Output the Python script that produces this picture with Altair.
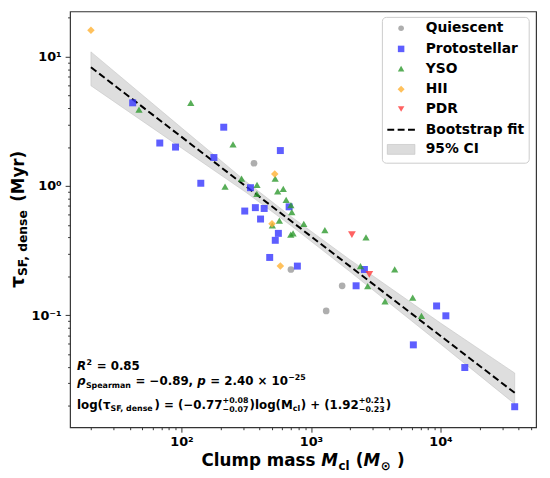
import altair as alt
import pandas as pd

# ---------------- data ----------------
cats = ["Quiescent", "Protostellar", "YSO", "HII", "PDR"]
q_mass = [363, 700, 1740, 1310]
q_tau = [1.5, 0.226, 0.169, 0.108]
p_mass = [42, 68, 90, 212, 178, 580, 141, 341, 678, 308, 372, 435, 408, 560,
          530, 480, 785, 2585, 2230, 9330, 11000, 6170, 15400, 37400]
p_tau = [4.4, 2.15, 2.0, 2.85, 1.66, 1.88, 1.05, 0.97, 0.69, 0.64, 0.68, 0.67,
         0.555, 0.43, 0.38, 0.28, 0.24, 0.226, 0.169, 0.118, 0.099, 0.059,
         0.0394, 0.0196]
y_mass = [47, 118, 250, 529, 217, 291, 383, 382, 553, 611, 643, 700, 711, 503,
          570, 698, 727, 880, 1280, 2660, 2410, 2740, 3730, 4430, 6100, 7130]
y_tau = [3.9, 4.4, 2.1, 1.14, 0.99, 1.14, 1.02, 0.87, 0.91, 0.95, 0.78, 0.71,
         0.627, 0.496, 0.54, 0.42, 0.43, 0.51, 0.455, 0.40, 0.24, 0.168, 0.128,
         0.226, 0.137, 0.099]
h_mass = [20, 525, 500, 580]
h_tau = [16, 1.24, 0.51, 0.24]
d_mass = [2070, 2820]
d_tau = [0.42, 0.207]

fit_mass = [20, 37400]
fit_tau = [8.28, 0.0251]

ci_mass = [20, 100, 316, 708, 1995, 10000, 37400]
ci_lo = [5.97, 1.97, 0.891, 0.49, 0.218, 0.060, 0.0206]
ci_hi = [10.9, 2.82, 1.08, 0.576, 0.269, 0.087, 0.0357]

x_labels = {100: "10²", 1000: "10³", 10000: "10⁴"}
y_labels = {0.1: "10⁻¹", 1: "10⁰", 10: "10¹"}

# ---------------- styling ----------------
colors = ["#9a9a9a", "#3636ff", "#2e9a2e", "#ffb233", "#ff3b3b"]
shapes = ["circle", "square", "triangle-up", "diamond", "triangle-down"]
sizes = [46, 62, 62, 72, 62]
FONT = "DejaVu Sans"

masses = [q_mass, p_mass, y_mass, h_mass, d_mass]
taus = [q_tau, p_tau, y_tau, h_tau, d_tau]
rows = []
for c, ms, ts in zip(cats, masses, taus):
    for m, t in zip(ms, ts):
        rows.append({"mass": m, "tau": t, "cls": c})
pts = pd.DataFrame(rows)
fit = pd.DataFrame({"mass": fit_mass, "tau": fit_tau})
band = pd.DataFrame({"mass": ci_mass, "lo": ci_lo, "hi": ci_hi})

xdom = [13.8, 54700]
ydom = [0.0136, 22.4]
xticks = [float(f"{m}e{k}") for k in range(1, 5) for m in range(1, 10)]
xticks = [v for v in xticks if xdom[0] <= v <= xdom[1]]
yticks = [float(f"{m}e{k}") for k in range(-2, 2) for m in range(1, 10)]
yticks = [v for v in yticks if ydom[0] <= v <= ydom[1]]


def label_expr(d):
    parts = [f"datum.value == {k} ? '{v}'" for k, v in d.items()]
    return " : ".join(parts) + " : ''"


def major_test(d):
    return " || ".join(f"datum.value == {k}" for k in d)


xaxis = alt.Axis(values=xticks, labelExpr=label_expr(x_labels), title=None,
                 grid=False, domain=False, labelOverlap=False, labelFlush=False,
                 tickSize={"condition": {"test": major_test(x_labels), "value": 5}, "value": 2.5},
                 labelPadding=4)
yaxis = alt.Axis(values=yticks, labelExpr=label_expr(y_labels), title=None,
                 grid=False, domain=False, labelOverlap=False, labelFlush=False,
                 tickSize={"condition": {"test": major_test(y_labels), "value": 5}, "value": 2.5},
                 labelPadding=4)
xscale = alt.Scale(type="log", domain=xdom, nice=False)
yscale = alt.Scale(type="log", domain=ydom, nice=False)

band_layer = alt.Chart(band).mark_area(
    color="#d4d4d4", opacity=0.75, stroke="#b0b0b0", strokeWidth=0.6
).encode(
    x=alt.X("mass:Q", scale=xscale, axis=xaxis),
    y=alt.Y("lo:Q", scale=yscale, axis=yaxis),
    y2="hi:Q",
)
fit_layer = alt.Chart(fit).mark_line(
    color="black", strokeWidth=2, strokeDash=[7, 3.5]
).encode(
    x=alt.X("mass:Q", scale=xscale, axis=xaxis),
    y=alt.Y("tau:Q", scale=yscale, axis=yaxis),
)
pt_layer = alt.Chart(pts).mark_point(
    filled=True, opacity=0.8, strokeWidth=1
).encode(
    x=alt.X("mass:Q", scale=xscale, axis=xaxis),
    y=alt.Y("tau:Q", scale=yscale, axis=yaxis),
    color=alt.Color("cls:N", scale=alt.Scale(domain=cats, range=colors), legend=None),
    shape=alt.Shape("cls:N", scale=alt.Scale(domain=cats, range=shapes), legend=None),
    size=alt.Size("cls:N", scale=alt.Scale(domain=cats, range=sizes), legend=None),
)

one = pd.DataFrame({"k": [0]})

# ---------------- text helpers ----------------
W = {' ': 0.348, '(': 0.457, ')': 0.457, '+': 0.838, '−': 0.838, '=': 0.838,
     ',': 0.38, '.': 0.38, '×': 0.838, 'a': 0.675, 'c': 0.593, 'd': 0.716,
     'e': 0.678, 'g': 0.716, 'l': 0.343, 'm': 1.042, 'n': 0.712, 'o': 0.687,
     'p': 0.716, 'r': 0.493, 's': 0.595, 'u': 0.712, 'y': 0.652, 'C': 0.734,
     'F': 0.683, 'M': 0.995, 'R': 0.770, 'S': 0.720, 'τ': 0.64, 'ρ': 0.716,
     '⊙': 0.84}
for ch in "0123456789":
    W[ch] = 0.696


def tw(s, size):
    return sum(W.get(c, 0.62) for c in s) * size


def adv(s, size, italic, dy=0):
    return tw(s, size) + (0.5 if italic else 0) + (0.5 if dy != 0 else 0)


def piece(s, x, y, size, italic=False, angle=0):
    # leading blanks are dropped by SVG, so shift the anchor instead
    lead = len(s) - len(s.lstrip(" "))
    shift = lead * W[" "] * size
    s = s.strip(" ")
    if angle:
        y = y - shift
    else:
        x = x + shift
    kw = dict(text=s, font=FONT, fontSize=size, fontWeight="bold",
              fontStyle="italic" if italic else "normal", align="left",
              baseline="alphabetic", color="black")
    if angle:
        kw["angle"] = angle
    return alt.Chart(one).mark_text(**kw).encode(x=alt.value(x), y=alt.value(y))


def run(items, x0, y0, vertical=False):
    out = []
    pos = 0.0
    for it in items:
        if it[0] == "stack":
            _, sup, sub, size = it
            out.append(piece(sup, x0 + pos, y0 - 6, size))
            out.append(piece(sub, x0 + pos, y0 + 4, size))
            pos += max(tw(sup, size), tw(sub, size)) + 1
            continue
        s, size, dy, italic = it
        if vertical:
            out.append(piece(s, x0 + dy, y0 - pos, size, italic, angle=270))
        else:
            out.append(piece(s, x0 + pos, y0 + dy, size, italic))
        pos += adv(s, size, italic, dy)
    return out, pos


def total(items):
    return sum(adv(s, z, it, dy) for s, z, dy, it in items)


texts = []
# x-axis title, centred under the plot
xt_items = [("Clump mass ", 17, 0, False), ("M", 17, 0, True), ("cl", 12, 4, False),
            (" (", 17, 0, False), ("M", 17, 0, True), ("⊙", 12, 4, False),
            (" )", 17, 0, False)]
t, _ = run(xt_items, 473 / 2 - total(xt_items) / 2, 461)
texts += t
# y-axis title (rotated), centred on the plot
yt_items = [("τ", 19, 0, False), ("SF, dense", 12.5, 3.5, False), (" (Myr)", 17, 0, False)]
t, _ = run(yt_items, -47, 422 / 2 + total(yt_items) / 2, vertical=True)
texts += t
# annotations
t, _ = run([("R", 12, 0, True), ("2", 8, -5, False), (" = 0.85", 12, 0, False)], 7, 364)
texts += t
t, l2 = run([("ρ", 12, 0, True), ("Spearman", 8, 3, False), (" = −0.89, ", 12, 0, False),
             ("p", 12, 0, True), (" = 2.40 × 10", 12, 0, False)], 7, 379)
texts += t
texts.append(piece("−25", 7 + l2, 374, 8))
t, _ = run([("log(τ", 12, 0, False), ("SF, dense", 8, 3, False), (") = (−0.77", 12, 0, False),
            ("stack", "+0.08", "−0.07", 8), (")log(M", 12, 0, False), ("cl", 8, 3, False),
            (") + (1.92", 12, 0, False), ("stack", "+0.21", "−0.23", 8), (")", 12, 0, False)],
           7, 403)
texts += t

# ---------------- legend (drawn by hand) ----------------
leg = []
leg.append(alt.Chart(one).mark_rect(
    fill="white", fillOpacity=0.85, stroke="#cccccc", strokeWidth=1, cornerRadius=4
).encode(x=alt.value(317), x2=alt.value(466), y=alt.value(6), y2=alt.value(154)))
row_y = [17, 38, 58, 79, 99, 120, 140]
for i, c in enumerate(cats):
    leg.append(alt.Chart(one).mark_point(
        filled=True, shape=shapes[i], color=colors[i], opacity=0.8, size=sizes[i] * 0.7
    ).encode(x=alt.value(336), y=alt.value(row_y[i])))
leg.append(alt.Chart(one).mark_rule(color="black", strokeWidth=2, strokeDash=[7, 3.5]).encode(
    x=alt.value(322), x2=alt.value(351), y=alt.value(row_y[5])))
leg.append(alt.Chart(one).mark_rect(fill="#d4d4d4", opacity=0.8, stroke="#b0b0b0",
                                    strokeWidth=0.6).encode(
    x=alt.value(322), x2=alt.value(350), y=alt.value(row_y[6] - 5), y2=alt.value(row_y[6] + 5)))
for i, lab in enumerate(cats + ["Bootstrap fit", "95% CI"]):
    leg.append(alt.Chart(one).mark_text(
        text=lab, font=FONT, fontSize=14, fontWeight="bold", align="left",
        baseline="middle", color="black"
    ).encode(x=alt.value(361), y=alt.value(row_y[i])))

chart = alt.layer(band_layer, fit_layer, pt_layer, *leg, *texts).properties(
    width=473, height=422,
    autosize=alt.AutoSizeParams(type="none"),
    padding={"left": 63, "top": 0, "right": 6, "bottom": 48},
).configure_view(
    stroke="#333333", strokeWidth=1.2
).configure_axis(
    labelFont=FONT, labelFontWeight="bold", labelFontSize=13, labelColor="black",
    tickColor="#333333", tickWidth=1
)

chart.save("out.html", embed_options={"renderer": "svg", "actions": False})
